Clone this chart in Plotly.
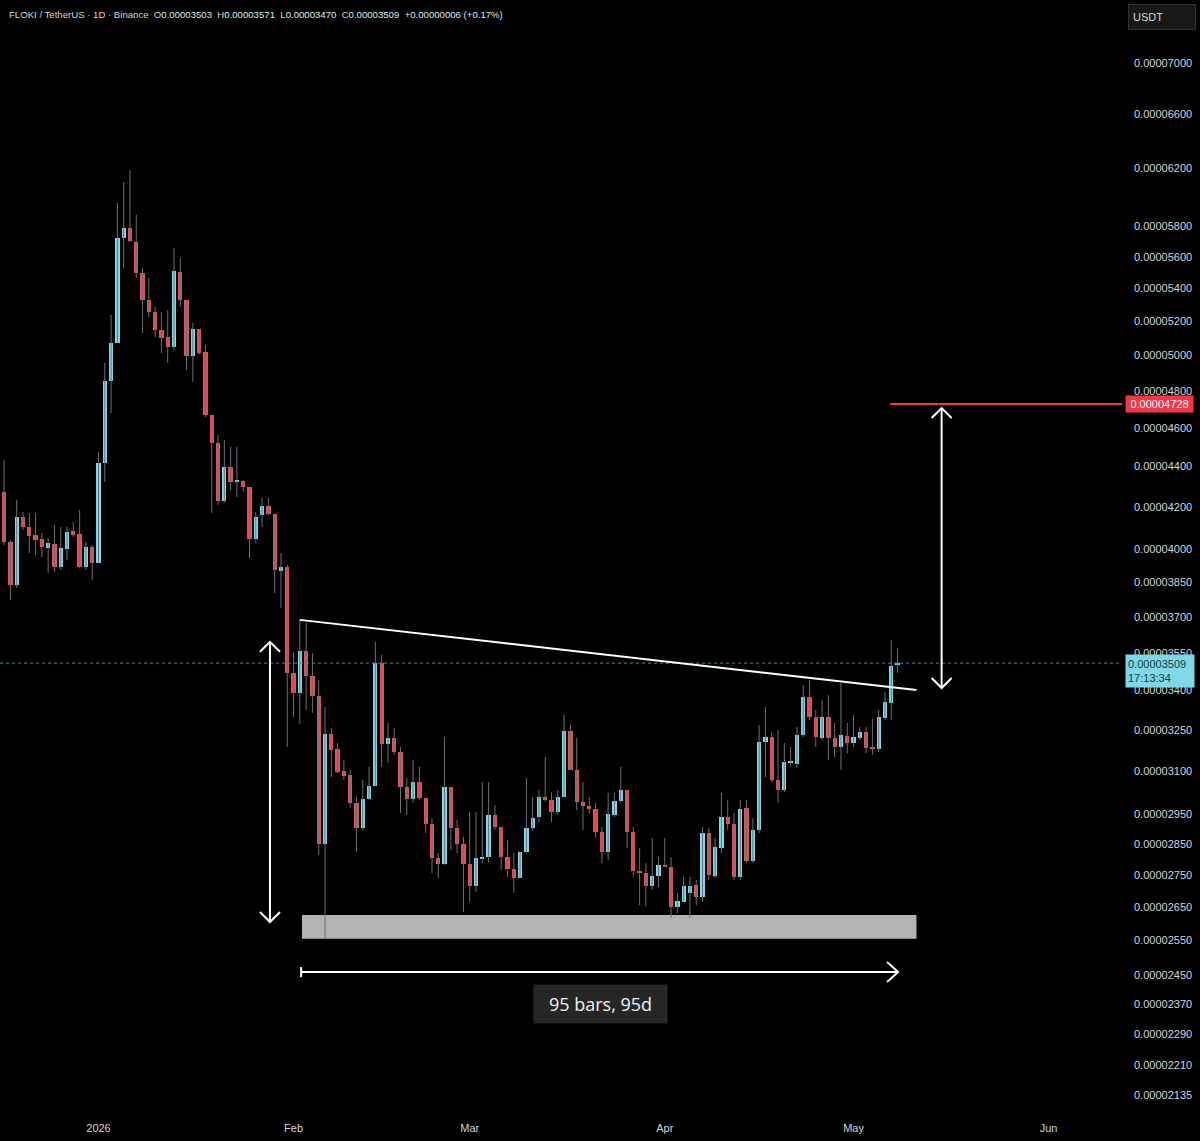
import math
import pandas as pd
import plotly.graph_objects as go

# ---------------- data (prices in units of 1e-8 USDT) ----------------
PRICE_UNIT = 1e-8
FIRST_BAR = "2025-12-16"

opens = [
    4137, 4273, 4034, 3839, 4151, 4104, 4066, 4048, 4006, 4025,
    3920, 4002, 4085, 4071, 3920, 4011, 3938, 4418, 4855, 5072,
    5723, 5789, 5697, 5497, 5329, 5256, 5148, 5107, 5048, 5503,
    5329, 4997, 5154, 5020, 4668, 4520, 4229, 4397, 4322, 4327,
    4298, 4048, 4161, 4204, 4166, 3902, 3920, 3469, 3390, 3558,
    3457, 3379, 2850, 3234, 3179, 3099, 3085, 2988, 2903, 3001,
    3046, 3510, 3197, 3219, 3168, 3042, 3001, 3060, 3005, 2916,
    2804, 2785, 3042, 2903, 2850, 2785, 2715, 2801, 2807, 2946,
    2906, 2807, 2769, 2741, 2824, 2903, 2939, 3008, 2998, 2956,
    3008, 3245, 3103, 2991, 2977, 2967, 2889, 2824, 2946, 2994,
    3032, 2889, 2763, 2756, 2715, 2747, 2779, 2776, 2650, 2666,
    2694, 2719, 2681, 2886, 2747, 2837, 2939, 2916, 2744, 2970,
    2795, 2896, 3205, 3223, 3067, 3032, 3128, 3125, 3230, 3375,
    3298, 3219, 3298, 3219, 3186, 3227, 3201, 3219, 3241, 3182,
    3179, 3295, 3352, 3503,
]
highs = [
    4357, 4433, 4043, 4234, 4175, 4170, 4170, 4076, 4052, 4113,
    4104, 4104, 4127, 4185, 4034, 4020, 4474, 4957, 5238, 5959,
    6104, 6189, 5877, 5529, 5466, 5286, 5256, 5268, 5658, 5593,
    5329, 5190, 5154, 5060, 4668, 4562, 4536, 4500, 4500, 4332,
    4298, 4175, 4244, 4244, 4166, 3983, 3929, 3554, 3688, 3675,
    3550, 3441, 3336, 3256, 3201, 3139, 3103, 3008, 3067, 3114,
    3596, 3542, 3276, 3256, 3186, 3074, 3139, 3114, 3005, 2936,
    2820, 3223, 3042, 2929, 2873, 2956, 2956, 3060, 3060, 2980,
    2906, 2863, 2820, 2824, 3074, 3008, 3032, 3150, 3025, 3032,
    3306, 3268, 3219, 3060, 3008, 2988, 2906, 3022, 3022, 3114,
    3032, 2906, 2837, 2788, 2870, 2807, 2870, 2807, 2694, 2744,
    2744, 2734, 2906, 2903, 2870, 3022, 2998, 2953, 2998, 2998,
    2936, 3268, 3336, 3241, 3249, 3201, 3186, 3260, 3422, 3441,
    3325, 3363, 3382, 3276, 3429, 3276, 3306, 3260, 3260, 3291,
    3325, 3394, 3604, 3571,
]
lows = [
    4090, 4020, 3773, 3826, 4090, 3983, 3974, 3965, 3893, 3897,
    3906, 3951, 4057, 3915, 3906, 3861, 3938, 4322, 4679, 5072,
    5529, 5697, 5466, 5130, 5226, 5107, 5014, 4957, 5031, 5286,
    4917, 4849, 5003, 4658, 4171, 4210, 4219, 4283, 4249, 4273,
    3960, 4029, 4104, 4161, 3804, 3739, 3186, 3298, 3272, 3325,
    3314, 2814, 2558, 3078, 3092, 3067, 2970, 2824, 2896, 2998,
    3046, 3114, 3128, 3157, 2953, 2946, 2988, 2998, 2886, 2756,
    2740, 2782, 2830, 2820, 2635, 2666, 2697, 2788, 2791, 2896,
    2766, 2744, 2694, 2741, 2820, 2896, 2922, 2991, 2922, 2946,
    3008, 3103, 2963, 2896, 2953, 2870, 2788, 2798, 2939, 2988,
    2837, 2744, 2656, 2653, 2703, 2712, 2776, 2617, 2632, 2666,
    2617, 2656, 2666, 2734, 2740, 2820, 2896, 2734, 2734, 2788,
    2788, 2886, 3078, 3060, 2988, 3025, 3114, 3110, 3223, 3287,
    3186, 3212, 3139, 3150, 3103, 3164, 3186, 3212, 3164, 3157,
    3168, 3287, 3287, 3470,
]
closes = [
    4273, 4034, 3839, 4151, 4104, 4062, 4043, 4011, 4029, 3920,
    4006, 4080, 4066, 3920, 4011, 3938, 4418, 4855, 5072, 5723,
    5789, 5704, 5497, 5329, 5256, 5148, 5101, 5048, 5510, 5329,
    4997, 5154, 5014, 4668, 4520, 4229, 4397, 4322, 4332, 4298,
    4048, 4151, 4204, 4166, 3906, 3920, 3469, 3390, 3558, 3457,
    3379, 2850, 3234, 3175, 3096, 3081, 2988, 2903, 3001, 3046,
    3510, 3197, 3219, 3168, 3042, 3001, 3060, 3005, 2916, 2804,
    2785, 3042, 2903, 2850, 2785, 2715, 2804, 2807, 2946, 2906,
    2807, 2769, 2741, 2824, 2903, 2936, 3008, 2998, 2956, 3008,
    3245, 3103, 2991, 2977, 2967, 2889, 2824, 2949, 2994, 3032,
    2889, 2763, 2756, 2715, 2747, 2782, 2776, 2650, 2669, 2715,
    2715, 2681, 2886, 2750, 2840, 2939, 2916, 2744, 2967, 2795,
    2896, 3205, 3223, 3067, 3032, 3132, 3132, 3230, 3375, 3298,
    3223, 3298, 3219, 3186, 3230, 3201, 3223, 3241, 3182, 3179,
    3298, 3356, 3497, 3509,
]

price_ticks = [7000, 6600, 6200, 5800, 5600, 5400, 5200, 5000, 4800, 4600,
               4400, 4200, 4000, 3850, 3700, 3550, 3400, 3250, 3100, 2950,
               2850, 2750, 2650, 2550, 2450, 2370, 2290, 2210, 2135]
month_ticks = ["2026-01-01", "2026-02-01", "2026-03-01", "2026-04-01", "2026-05-01", "2026-06-01"]
month_labels = ["2026", "Feb", "Mar", "Apr", "May", "Jun"]

# drawings (date, price)
trend_start = ("2026-02-02", 3688)
trend_end = ("2026-05-11", 3402)
zone_x = ("2026-02-02 08:00", "2026-05-11")
zone_price = (2555, 2626)
left_arrow_x = "2026-01-28 06:00"
left_arrow_price = (2605, 3596)
right_arrow_x = "2026-05-15"
right_arrow_price = (3410, 4706)
range_arrow_x = ("2026-02-02 05:00", "2026-05-08 02:00")
range_arrow_price = 2459
target_price = 4728
target_start = "2026-05-06 20:00"
countdown = "17:13:34"
range_label = "95 bars, 95d"
range_label_pos = ("2026-03-21 17:00", 2371)
symbol_text = "FLOKI / TetherUS · 1D · Binance"

# ---------------- styling ----------------
UP = "#7fd8e9"
DOWN = "#e0515d"
WICK = "#6c6f77"
TXT = "#d1d4dc"
FONT = "Liberation Sans, Arial, sans-serif"
DAY_MS = 86400000

dates = pd.date_range(FIRST_BAR, periods=len(opens), freq="D")
o = [v * PRICE_UNIT for v in opens]
h = [v * PRICE_UNIT for v in highs]
l = [v * PRICE_UNIT for v in lows]
c = [v * PRICE_UNIT for v in closes]

fig = go.Figure()

# wicks
wx, wy = [], []
for d, hi, lo in zip(dates, h, l):
    wx += [d, d, None]
    wy += [lo, hi, None]
fig.add_trace(go.Scatter(x=wx, y=wy, mode="lines", line=dict(color=WICK, width=1),
                         hoverinfo="skip", showlegend=False))

# bodies
for is_up, color in [(True, UP), (False, DOWN)]:
    bx, bbase, bsize = [], [], []
    for d, op, cl in zip(dates, o, c):
        if (cl >= op) == is_up:
            lo_b = min(op, cl)
            bx.append(d)
            bbase.append(lo_b)
            bsize.append(max(abs(cl - op), lo_b * 0.0014))
    fig.add_trace(go.Bar(x=bx, base=bbase, y=bsize, width=0.68 * DAY_MS,
                         marker=dict(color=color, line=dict(width=0)),
                         hoverinfo="skip", showlegend=False))

shapes = []
# support zone
shapes.append(dict(type="rect", xref="x", yref="y", x0=zone_x[0], x1=zone_x[1],
                   y0=zone_price[0] * PRICE_UNIT, y1=zone_price[1] * PRICE_UNIT,
                   fillcolor="#b3b3b3", line=dict(width=0), layer="below"))
# current price dotted line
shapes.append(dict(type="line", xref="paper", yref="y", x0=0, x1=1,
                   y0=c[-1], y1=c[-1], line=dict(color="#3f8e9b", width=1, dash="dot")))
# trendline
shapes.append(dict(type="line", xref="x", yref="y",
                   x0=trend_start[0], y0=trend_start[1] * PRICE_UNIT,
                   x1=trend_end[0], y1=trend_end[1] * PRICE_UNIT,
                   line=dict(color="#ffffff", width=2)))
# target line
shapes.append(dict(type="line", xref="x", yref="y", x0=target_start, x1="2026-06-20",
                   y0=target_price * PRICE_UNIT, y1=target_price * PRICE_UNIT,
                   line=dict(color="#f23645", width=2)))


def vertical_arrow(x, p_low, p_high):
    out = [dict(type="line", xref="x", yref="y", x0=x, x1=x,
                y0=p_low * PRICE_UNIT, y1=p_high * PRICE_UNIT,
                line=dict(color="#ffffff", width=2))]
    out.append(dict(type="path", xref="x", yref="y", xsizemode="pixel", ysizemode="pixel",
                    xanchor=x, yanchor=p_high * PRICE_UNIT,
                    path="M -10,-10 L 0,0 L 10,-10", line=dict(color="#ffffff", width=2)))
    out.append(dict(type="path", xref="x", yref="y", xsizemode="pixel", ysizemode="pixel",
                    xanchor=x, yanchor=p_low * PRICE_UNIT,
                    path="M -10,10 L 0,0 L 10,10", line=dict(color="#ffffff", width=2)))
    return out


shapes += vertical_arrow(left_arrow_x, *left_arrow_price)
shapes += vertical_arrow(right_arrow_x, *right_arrow_price)

# horizontal range arrow
ry = range_arrow_price * PRICE_UNIT
shapes.append(dict(type="line", xref="x", yref="y", x0=range_arrow_x[0], x1=range_arrow_x[1],
                   y0=ry, y1=ry, line=dict(color="#ffffff", width=2)))
shapes.append(dict(type="path", xref="x", yref="y", xsizemode="pixel", ysizemode="pixel",
                   xanchor=range_arrow_x[1], yanchor=ry,
                   path="M -11,10 L 0,0 L -11,-10", line=dict(color="#ffffff", width=2)))
shapes.append(dict(type="path", xref="x", yref="y", xsizemode="pixel", ysizemode="pixel",
                   xanchor=range_arrow_x[0], yanchor=ry,
                   path="M 0,-5 L 0,5", line=dict(color="#ffffff", width=2)))

annotations = []
# header
val_col = "#d6eef2"
chg = closes[-1] - opens[-1]
pct = chg / opens[-1] * 100
header = (f"<span style='color:{TXT}'>{symbol_text}</span>"
          f"  O<span style='color:{val_col}'>{opens[-1] * PRICE_UNIT:.8f}</span>"
          f"  H<span style='color:{val_col}'>{highs[-1] * PRICE_UNIT:.8f}</span>"
          f"  L<span style='color:{val_col}'>{lows[-1] * PRICE_UNIT:.8f}</span>"
          f"  C<span style='color:{val_col}'>{closes[-1] * PRICE_UNIT:.8f}</span>"
          f"  <span style='color:{val_col}'>{'+' if chg >= 0 else '-'}{abs(chg) * PRICE_UNIT:.8f} "
          f"({'+' if pct >= 0 else '-'}{abs(pct):.2f}%)</span>")
annotations.append(dict(xref="paper", yref="paper", x=0, y=1, xanchor="left", yanchor="top",
                        xshift=7, yshift=-7, text=header.replace("  ", "&nbsp;&nbsp;"),
                        showarrow=False, font=dict(family=FONT, size=9.6, color=TXT)))
# USDT button
annotations.append(dict(xref="paper", yref="paper", x=1, y=1, xanchor="left", yanchor="top",
                        xshift=6, yshift=-4, text="USDT", showarrow=False, align="left",
                        width=58, height=16, borderpad=4, bgcolor="#181818",
                        bordercolor="#2f2f2f", borderwidth=1,
                        font=dict(family=FONT, size=11, color=TXT)))
# target price label
annotations.append(dict(xref="paper", yref="y", x=1, y=math.log10(target_price * PRICE_UNIT),
                        xanchor="left", yanchor="middle", xshift=3,
                        text=f"{target_price * PRICE_UNIT:.8f}", showarrow=False,
                        width=63, height=12, borderpad=2, bgcolor="#f23645",
                        font=dict(family=FONT, size=11, color="#ffffff")))
# last price label
annotations.append(dict(xref="paper", yref="y", x=1, y=math.log10(c[-1]),
                        xanchor="left", yanchor="top", xshift=3, yshift=9,
                        text=f"{c[-1]:.8f}<br>{countdown}", showarrow=False, align="left",
                        width=64, height=28, borderpad=2, bgcolor="#7fd8e8",
                        font=dict(family=FONT, size=11, color="#0f3f48")))
# range label
annotations.append(dict(xref="x", yref="y", x=range_label_pos[0],
                        y=math.log10(range_label_pos[1] * PRICE_UNIT),
                        text=range_label, showarrow=False, width=125, height=30, borderpad=4,
                        bgcolor="#262626", font=dict(family="Open Sans, sans-serif", size=18,
                                                     color="#f0f0f0")))

y_top = math.log10(7000 * PRICE_UNIT) + 63 / 2000.95
y_bot = math.log10(7000 * PRICE_UNIT) - (1112 - 63) / 2000.95

fig.update_layout(
    width=1200, height=1141, autosize=False,
    margin=dict(l=0, r=78, t=0, b=29),
    paper_bgcolor="#000000", plot_bgcolor="#000000",
    barmode="overlay", bargap=0, showlegend=False, hovermode=False,
    shapes=shapes, annotations=annotations,
    xaxis=dict(type="date", range=["2025-12-16 08:17", "2026-06-12 16:00"],
               tickvals=month_ticks, ticktext=month_labels, showgrid=False, zeroline=False,
               showline=False, ticks="", ticklabelstandoff=8,
               tickfont=dict(family=FONT, size=11, color=TXT)),
    yaxis=dict(type="log", side="right", range=[y_bot, y_top],
               tickvals=[v * PRICE_UNIT for v in price_ticks],
               ticktext=[f"{v * PRICE_UNIT:.8f}" for v in price_ticks],
               showgrid=False, zeroline=False, showline=False, ticks="",
               ticklabelstandoff=11, tickfont=dict(family=FONT, size=11, color=TXT)),
)

fig.write_html("out.html")
